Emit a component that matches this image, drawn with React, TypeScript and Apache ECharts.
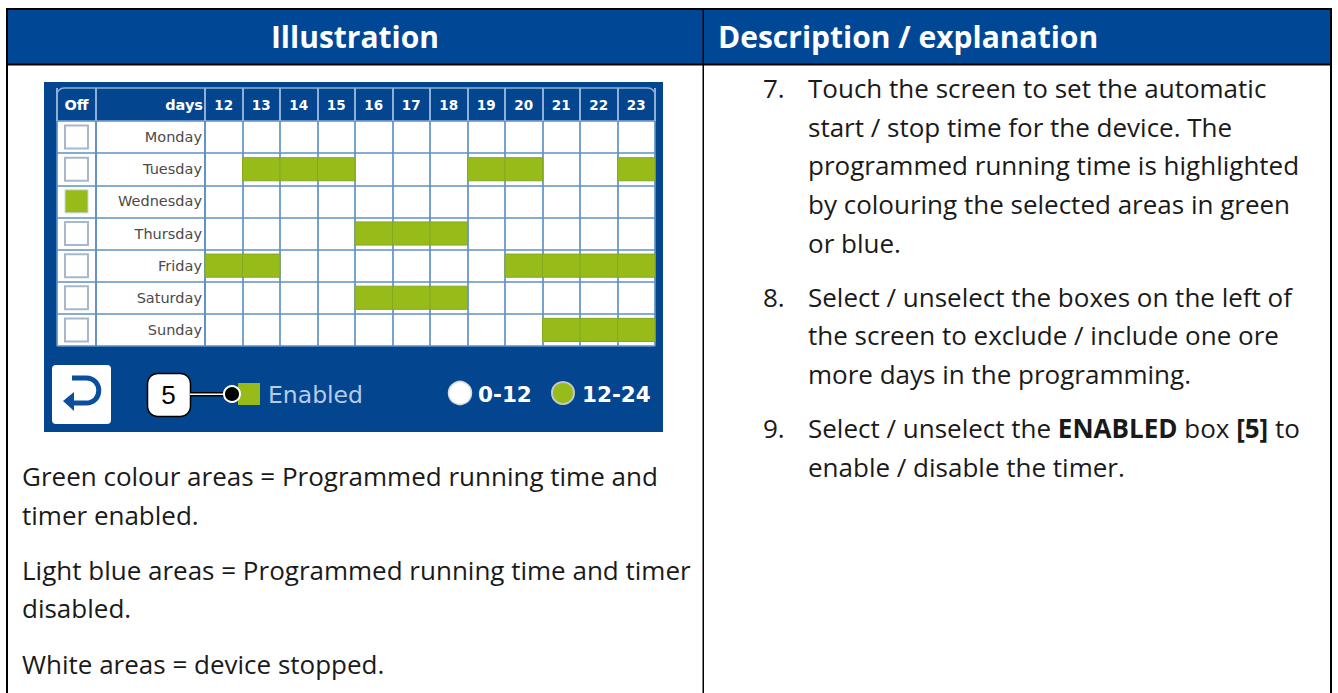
import React, { useEffect, useRef } from "react";
import * as echarts from "echarts";

const hours = ["12", "13", "14", "15", "16", "17", "18", "19", "20", "21", "22", "23"];
const days = ["Monday", "Tuesday", "Wednesday", "Thursday", "Friday", "Saturday", "Sunday"];
const offColumn = ["Off"];
const daysColumn = ["days"];

const monday: string[] = [];
const tuesday = ["13", "14", "15", "19", "20", "23"];
const wednesday: string[] = [];
const thursday = ["16", "17", "18"];
const friday = ["12", "13", "20", "21", "22", "23"];
const saturday = ["16", "17", "18"];
const sunday = ["21", "22", "23"];
const schedule = [monday, tuesday, wednesday, thursday, friday, saturday, sunday];
const offChecked = ["Wednesday"];

const headerLeft = "Illustration";
const headerRight = "Description / explanation";
const leftLines = [
  "Green colour areas = Programmed running time and",
  "timer enabled.",
  "Light blue areas = Programmed running time and timer",
  "disabled.",
  "White areas = device stopped.",
];
const rightLines = [
  "Touch the screen to set the automatic",
  "start / stop time for the device. The",
  "programmed running time is highlighted",
  "by colouring the selected areas in green",
  "or blue.",
  "Select / unselect the boxes on the left of",
  "the screen to exclude / include one ore",
  "more days in the programming.",
  "Select / unselect the {b|ENABLED} box {b|[5]} to",
  "enable / disable the timer.",
];
const rightNumbers = ["7.", "8.", "9."];

const BLUE = "#004896";
const PANEL = "#04458f";
const GREEN = "#97bc1a";
const LINE = "#5f90c6";
const HEAD_LINE = "#8fafd6";
const FONT = "Open Sans";
const ICON = "DejaVu Sans";
const BODY = 26;

const leftY = [476, 515, 570, 608, 664];
const rightY = [88, 127, 165, 204, 243, 297, 335, 374, 428, 467];
const numberY = [88, 297, 428];

echarts.graphic.registerShape(
  "returnArrow",
  echarts.graphic.extendPath("M72 378 H86 C103 378 103 403 86 403 H70", {})
);

function label(text: string, x: number, y: number, size: number, fill: string, extra: any = {}) {
  return {
    type: "text",
    z: 10,
    style: { text, x, y, fontFamily: FONT, fontSize: size, fill, verticalAlign: "middle", ...extra },
  };
}
function box(x: number, y: number, width: number, height: number, fill: string, z = -1, r: any = 0, extra: any = {}) {
  return { type: "rect", z, shape: { x, y, width, height, r }, style: { fill, ...extra } };
}

export default function App() {
  const ref = useRef<HTMLDivElement>(null);
  useEffect(() => {
    document.body.style.margin = "0";
    document.body.style.background = "#fff";
    const chart = echarts.init(ref.current!, undefined, { renderer: "svg" });

    const cellData: string[][] = [];
    days.forEach((d, i) => schedule[i].forEach((h) => cellData.push([h, d])));

    const vLine = { show: true, interval: 0, lineStyle: { color: LINE, width: 2, opacity: 0.85 } };
    const hLine = { show: true, interval: 0, lineStyle: { color: LINE, width: 1.6 } };
    const headLabel = {
      show: true,
      interval: 0,
      margin: 16,
      color: "#ffffff",
      fontFamily: ICON,
      fontWeight: "bold" as const,
      verticalAlign: "middle" as const,
    };
    const headTick = { show: true, alignWithLabel: false, interval: 0, length: 33, lineStyle: { color: HEAD_LINE, width: 2 } };

    const gridTop = 121;
    const gridH = 225;
    const baseX = (data: string[], gridIndex: number, fontSize: number, tick: boolean) => ({
      type: "category" as const,
      gridIndex,
      data,
      position: "top" as const,
      axisLine: { show: false },
      axisTick: tick ? headTick : { show: false },
      axisLabel: { ...headLabel, fontSize },
      splitLine: vLine,
    });
    const baseY = (gridIndex: number, showLabel: boolean) => ({
      type: "category" as const,
      gridIndex,
      data: days,
      inverse: true,
      axisLine: { show: false },
      axisTick: { show: false },
      axisLabel: {
        show: showLabel,
        interval: 0,
        margin: 3,
        color: "#4a4a4a",
        fontFamily: ICON,
        fontSize: 14.5,
        align: "right" as const,
      },
      splitLine: hLine,
    });

    chart.setOption({
      animation: false,
      backgroundColor: "#ffffff",
      grid: [
        { left: 57, top: gridTop, width: 39, height: gridH, show: true, backgroundColor: "#ffffff", borderWidth: 0 },
        { left: 96, top: gridTop, width: 109, height: gridH, show: true, backgroundColor: "#ffffff", borderWidth: 0 },
        { left: 205, top: gridTop, width: 450, height: gridH, show: true, backgroundColor: "#ffffff", borderWidth: 0 },
      ],
      xAxis: [baseX(offColumn, 0, 14.5, true), { ...baseX(daysColumn, 1, 14.5, true), axisLabel: { show: false } }, baseX(hours, 2, 13.5, true)],
      yAxis: [baseY(0, false), baseY(1, false), baseY(2, true)],
      series: [
        {
          type: "scatter",
          xAxisIndex: 0,
          yAxisIndex: 0,
          symbol: "rect",
          symbolSize: 23,
          itemStyle: { opacity: 1 },
          data: days.map((d) => ({
            value: ["Off", d],
            itemStyle: offChecked.includes(d)
              ? { color: GREEN, borderColor: "#c9d4e2", borderWidth: 1, opacity: 1 }
              : { color: "#ffffff", borderColor: "#a9b7cb", borderWidth: 2, opacity: 1 },
          })),
        },
        {
          type: "custom",
          xAxisIndex: 2,
          yAxisIndex: 2,
          data: cellData,
          encode: { x: 0, y: 1 },
          renderItem: (_p: any, api: any) => {
            const c = api.coord([api.value(0), api.value(1)]);
            const s = api.size([1, 1]);
            const h = s[1] * 0.72;
            return {
              type: "rect",
              shape: { x: c[0] - s[0] / 2, y: c[1] - h / 2, width: s[0], height: h },
              style: { fill: GREEN, stroke: "#86a81f", lineWidth: 1 },
            };
          },
        },
      ],
      graphic: {
        elements: [
          box(6, 8, 1326, 56, BLUE, -2),
          box(44, 82, 619, 350, PANEL, -1),
          {
            type: "rect",
            z: -1,
            shape: { x: 57, y: 88, width: 598, height: 33, r: [7, 7, 0, 0] },
            style: { fill: PANEL, stroke: HEAD_LINE, lineWidth: 1.5 },
          },
          // table rules
          box(6, 8, 1326, 2, "#000000", 20),
          box(6, 63.5, 1326, 2, "#000000", 20),
          box(6, 8, 2, 685, "#000000", 20),
          box(1330, 8, 2, 685, "#000000", 20),
          box(702.5, 8, 1.5, 685, "#000000", 20),
          // headers
          label(headerLeft, 355, 36, 30, "#ffffff", { fontWeight: "bold", align: "center" }),
          label(headerRight, 718, 36, 30, "#ffffff", { fontWeight: "bold" }),
          label(daysColumn[0], 203, 105, 14.5, "#ffffff", { fontFamily: ICON, fontWeight: "bold", align: "right" }),
          // controls below the table
          box(52, 365, 59, 59, "#ffffff", 5, 4),
          {
            type: "returnArrow",
            z: 6,
            style: { fill: "none", stroke: "#0a4f9e", lineWidth: 5 },
          },
          {
            type: "polygon",
            z: 6,
            shape: { points: [[63, 401], [74, 392], [74, 411]] },
            style: { fill: "#0a4f9e" },
          },
          box(147.5, 373.5, 43, 43, "#ffffff", 7, 10, { stroke: "#000000", lineWidth: 1.5 }),
          label("5", 168.5, 395, 26, "#000000", { fontFamily: "Liberation Sans", align: "center" }),
          box(190, 392, 36, 4.5, "#000000", 7),
          box(190, 393.4, 36, 1.7, "#ffffff", 8),
          box(238, 383, 22, 22, GREEN, 7),
          { type: "circle", z: 9, shape: { cx: 232, cy: 394, r: 8 }, style: { fill: "#000000", stroke: "#ffffff", lineWidth: 2 } },
          label("Enabled", 268, 395, 23.5, "#b8cbe6", { fontFamily: ICON }),
          { type: "circle", z: 7, shape: { cx: 460, cy: 393, r: 11.5 }, style: { fill: "#ffffff", stroke: "#d5d9dd", lineWidth: 1.5 } },
          label("0-12", 478, 394, 21.5, "#ffffff", { fontFamily: ICON, fontWeight: "bold" }),
          { type: "circle", z: 7, shape: { cx: 563, cy: 393, r: 11 }, style: { fill: GREEN, stroke: "#c3c9c4", lineWidth: 2 } },
          label("12-24", 582, 394, 21.5, "#ffffff", { fontFamily: ICON, fontWeight: "bold" }),
          // body text
          ...leftLines.map((t, i) => label(t, 22, leftY[i], BODY, "#1a1a1a")),
          ...rightNumbers.map((t, i) => label(t, 763, numberY[i], BODY, "#1a1a1a")),
          ...rightLines.map((t, i) =>
            label(t, 808, rightY[i], BODY, "#1a1a1a", {
              rich: { b: { fontFamily: FONT, fontSize: BODY, fontWeight: "bold", fill: "#1a1a1a", color: "#1a1a1a" } },
            })
          ),
        ],
      },
    });
    return () => chart.dispose();
  }, []);
  return <div ref={ref} style={{ width: 1338, height: 693 }} />;
}
